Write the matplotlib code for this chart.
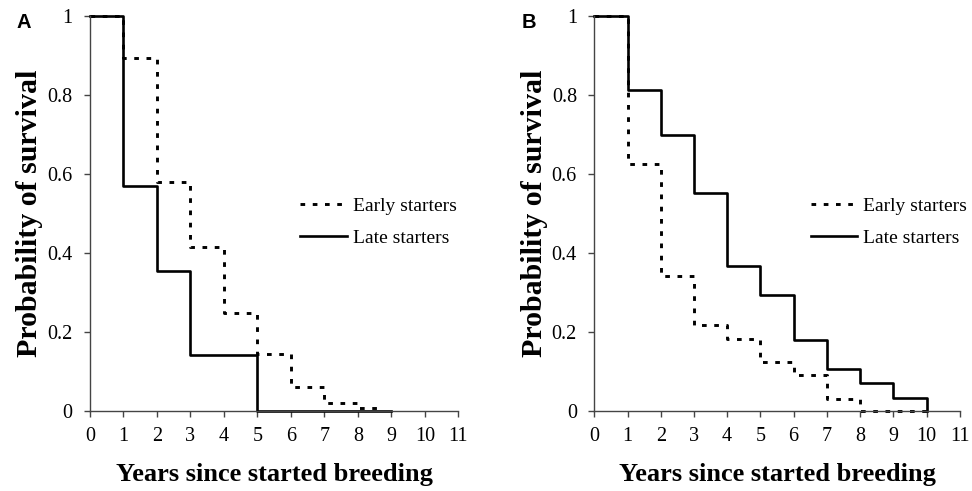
import matplotlib.pyplot as plt

# Panel A
early_a_t = [0, 1, 2, 3, 4, 5, 6, 7, 8, 8.7]
early_a_s = [1, 0.895, 0.58, 0.415, 0.248, 0.145, 0.06, 0.02, 0.007, 0]
late_a_t = [0, 1, 2, 3, 5, 9]
late_a_s = [1, 0.57, 0.355, 0.142, 0, 0]

# Panel B
early_b_t = [0, 1, 2, 3, 4, 5, 6, 7, 8, 10]
early_b_s = [1, 0.625, 0.343, 0.217, 0.183, 0.123, 0.09, 0.03, 0, 0]
late_b_t = [0, 1, 2, 3, 4, 5, 6, 7, 8, 9, 10]
late_b_s = [1, 0.814, 0.70, 0.553, 0.368, 0.293, 0.18, 0.107, 0.07, 0.032, 0]

x_ticks = list(range(12))
y_ticks = [0, 0.2, 0.4, 0.6, 0.8, 1]
y_labels = ['0', '0.2', '0.4', '0.6', '0.8', '1']

serif = ['Liberation Serif', 'DejaVu Serif']
plt.rcParams['font.family'] = serif

fig = plt.figure(figsize=(9.72, 4.91), dpi=100)
ax_a = fig.add_axes([0.0926, 0.163, 0.379, 0.804])
ax_b = fig.add_axes([0.6114, 0.163, 0.376, 0.804])

dash = (0, (1.6, 2.6))

def draw(ax, et, es, lt, ls, letter, leg_x):
    ax.step(et, es, where='post', color='black', lw=2.1, linestyle=dash,
            label='Early starters', clip_on=False)
    ax.step(lt, ls, where='post', color='black', lw=1.9,
            label='Late starters', clip_on=False)
    ax.set_xlim(0, 11)
    ax.set_ylim(0, 1)
    ax.set_xticks(x_ticks)
    ax.set_yticks(y_ticks)
    ax.set_yticklabels(y_labels)
    ax.tick_params(labelsize=14.5, length=4.5, width=1, color='#444444', direction='out')
    ax.tick_params(axis='x', pad=7)
    ax.tick_params(axis='y', pad=8)
    for side in ['top', 'right']:
        ax.spines[side].set_visible(False)
    for side in ['left', 'bottom']:
        ax.spines[side].set_color('#444444')
        ax.spines[side].set_linewidth(1)
    ax.set_xlabel('Years since started breeding', fontsize=19, fontweight='bold', labelpad=12)
    ax.set_ylabel('Probability of survival', fontsize=21.5, fontweight='bold', labelpad=3)
    ax.legend(loc='center left', bbox_to_anchor=(leg_x, 0.478), frameon=False, fontsize=14,
              handlelength=2.4, handletextpad=0.3, labelspacing=0.75, borderaxespad=0,
              borderpad=0)
    ax.text(-0.2, 0.985, letter, transform=ax.transAxes, fontsize=14.5, fontweight='bold',
            family=['Liberation Sans', 'DejaVu Sans'], va='center', ha='left')

draw(ax_a, early_a_t, early_a_s, late_a_t, late_a_s, 'A', 0.571)
draw(ax_b, early_b_t, early_b_s, late_b_t, late_b_s, 'B', 0.592)

fig.savefig('out.png', dpi=100)
